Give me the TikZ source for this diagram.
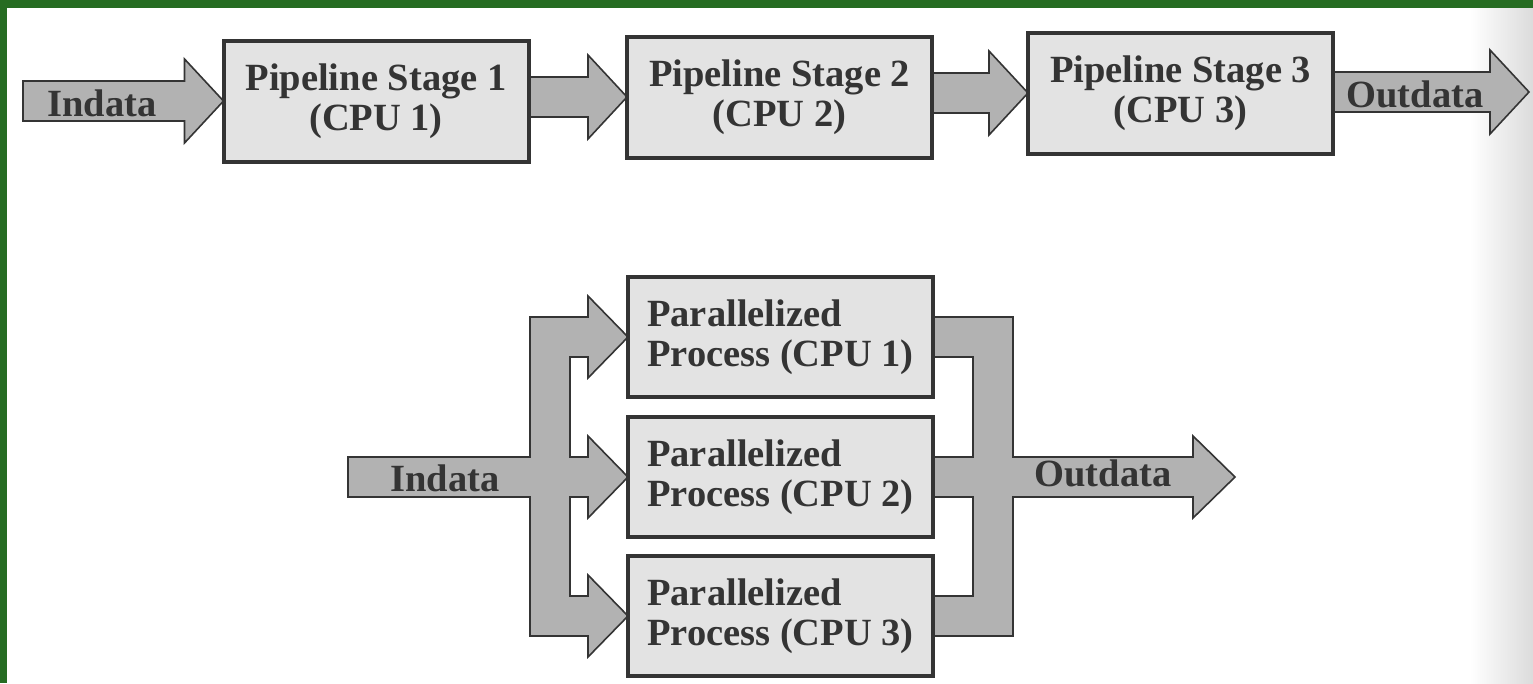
\documentclass[tikz,border=0pt]{standalone}
\usepackage{fontspec}
\setmainfont{Liberation Serif}
\usepackage{tikz}
\usetikzlibrary{calc}

\definecolor{frame}{RGB}{38,108,34}
\definecolor{ink}{RGB}{52,52,52}
\pgfdeclarelayer{back}
\pgfsetlayers{back,main}

\newcommand{\fatarrow}[2]{%
  \path[arrowfill] let \p1=(#1), \p2=(#2) in
    (\x1,\y2+20pt) -- (\x2-39pt,\y2+20pt) -- (\x2-39pt,\y2+42pt) -- (\x2,\y2)
    -- (\x2-39pt,\y2-42pt) -- (\x2-39pt,\y2-20pt) -- (\x1,\y2-20pt) -- cycle;}

\begin{document}
\begin{tikzpicture}[x=1pt, y=-1pt,
    stagebox/.style={draw=ink, line width=4pt, fill=gray!22, outer sep=0pt, inner sep=0pt,
      minimum width=305pt, minimum height=121pt, align=center, text=ink,
      font=\bfseries\fontsize{38.5}{40}\selectfont},
    procbox/.style={stagebox, align=left, minimum height=120pt},
    arrowfill/.style={draw=ink, line width=1.6pt, fill=gray!60},
    arrowtext/.style={text=ink, inner sep=0pt, font=\bfseries\fontsize{38.5}{40}\selectfont}]
        \useasboundingbox (0,0) rectangle (1533,683);

        \node [stagebox] (s1) at (376,101)   {Pipeline Stage 1\\(CPU 1)};
        \node [stagebox] (s2) at (779.5,97)  {Pipeline Stage 2\\(CPU 2)};
        \node [stagebox] (s3) at (1180.5,93) {Pipeline Stage 3\\(CPU 3)};
        \coordinate (in1)  at (23,101);
        \coordinate (out1) at (1529,92);

        \node [procbox] (p1) at (780.5,337) {Parallelized\\Process (CPU 1)};
        \node [procbox] (p2) at (780.5,477) {Parallelized\\Process (CPU 2)};
        \node [procbox] (p3) at (780.5,616) {Parallelized\\Process (CPU 3)};
        \coordinate (in2)  at (348,478);
        \coordinate (out2) at (1235,477);

        \begin{pgfonlayer}{back}
        \fill [white] (0,0) rectangle (1533,683);
        \shade [left color=white, right color=gray!28] (1470,8) rectangle (1533,683);
        \fill [frame] (0,0) rectangle (1533,8);
        \fill [frame] (0,0) rectangle (7,683);

        \fatarrow{in1}{s1.west}
        \fatarrow{s1.east}{s2.west}
        \fatarrow{s2.east}{s3.west}
        \fatarrow{s3.east}{out1}

        \path [arrowfill] let \p0=(in2), \p1=(p1.west), \p2=(p2.west), \p3=(p3.west) in
          (\x0,\y2+20pt) -- (\x1-98pt,\y2+20pt) -- (\x1-98pt,\y1+20pt) -- (\x1-40pt,\y1+20pt)
          -- (\x1-40pt,\y1+41pt) -- (\x1,\y1) -- (\x1-40pt,\y1-41pt) -- (\x1-40pt,\y1-20pt)
          -- (\x1-58pt,\y1-20pt) -- (\x1-58pt,\y2+20pt) -- (\x2-40pt,\y2+20pt)
          -- (\x2-40pt,\y2+41pt) -- (\x2,\y2) -- (\x2-40pt,\y2-41pt) -- (\x2-40pt,\y2-20pt)
          -- (\x1-58pt,\y2-20pt) -- (\x1-58pt,\y3+20pt) -- (\x3-40pt,\y3+20pt)
          -- (\x3-40pt,\y3+41pt) -- (\x3,\y3) -- (\x3-40pt,\y3-41pt) -- (\x3-40pt,\y3-20pt)
          -- (\x1-98pt,\y3-20pt) -- (\x1-98pt,\y2-20pt) -- (\x0,\y2-20pt) -- cycle;

        \path [arrowfill] let \p1=(p1.east), \p2=(p2.east), \p3=(p3.east), \p4=(out2) in
          (\x1,\y1+20pt) -- (\x1+80pt,\y1+20pt) -- (\x1+80pt,\y2+20pt) -- (\x4-42pt,\y2+20pt)
          -- (\x4-42pt,\y2+41pt) -- (\x4,\y2) -- (\x4-42pt,\y2-41pt) -- (\x4-42pt,\y2-20pt)
          -- (\x1+80pt,\y2-20pt) -- (\x1+80pt,\y3-20pt) -- (\x1,\y3-20pt) -- (\x1,\y3+20pt)
          -- (\x1+40pt,\y3+20pt) -- (\x1+40pt,\y2-20pt) -- (\x1,\y2-20pt) -- (\x1,\y2+20pt)
          -- (\x1+40pt,\y2+20pt) -- (\x1+40pt,\y1-20pt) -- (\x1,\y1-20pt) -- cycle;
        \end{pgfonlayer}

        \node [arrowtext] (lin1)  at (102,103)  {Indata};
        \node [arrowtext] (lout1) at (1415,94)  {Outdata};
        \node [arrowtext] (lin2)  at (445,478)  {Indata};
        \node [arrowtext] (lout2) at (1103,473) {Outdata};
      \end{tikzpicture}
\end{document}
